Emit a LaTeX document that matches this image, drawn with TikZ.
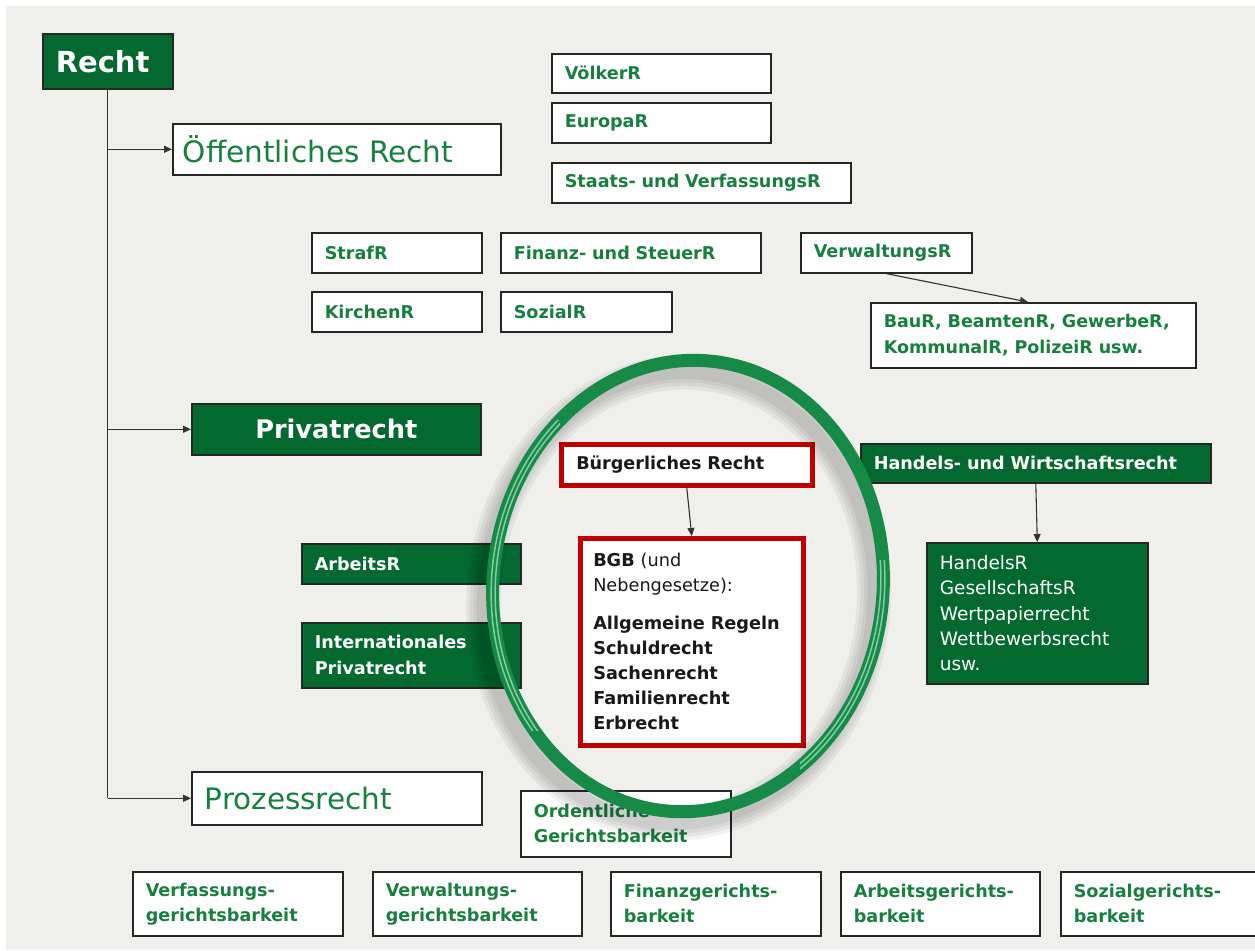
\documentclass[tikz,border=0pt]{standalone}
\usepackage{fontspec}
\setmainfont{DejaVu Sans}
\usetikzlibrary{arrows.meta}
\definecolor{bg}{HTML}{EFEFEC}
\definecolor{dgreen}{HTML}{03692F}
\definecolor{tgreen}{HTML}{17803F}
\definecolor{rred}{HTML}{C00000}
\definecolor{ringc}{HTML}{178A48}
\definecolor{ringlight}{HTML}{A8E6C0}
\begin{document}
\begin{tikzpicture}[x=1pt,y=-1pt,
  base/.style={anchor=north west, draw=black!85, line width=1.6pt, inner xsep=13pt, inner ysep=0pt, align=left},
  wbox/.style={base, fill=white, text=tgreen, font=\bfseries\fontsize{17.6}{25}\selectfont},
  gbox/.style={base, fill=dgreen, text=white, font=\bfseries\fontsize{17.6}{25}\selectfont},
  rbox/.style={base, draw=rred, line width=4.5pt, fill=white, text=black!90, font=\bfseries\fontsize{17.6}{25}\selectfont},
  bigfont/.style={font=\fontsize{29.5}{32}\selectfont},
  conn/.style={draw=black!80, line width=1.1pt},
  arr/.style={conn, -{Triangle[length=8pt,width=7pt]}},
  shadowring/.style={draw=black, line width=#1, opacity=0.05},
  stripe/.style={draw=ringlight, line width=1.5pt, opacity=0.75}
]
\useasboundingbox (0,0) rectangle (1255,950);
\fill[white] (0,0) rectangle (1255,950);
\fill[bg] (6,6) rectangle (1255,950);

% main boxes
\node[gbox, font=\bfseries\fontsize{29}{32}\selectfont, minimum width=130pt, minimum height=55pt, text width=104pt] (recht) at (42,33) {Recht};
\node[wbox, bigfont, inner xsep=10pt, minimum width=328pt, minimum height=51pt, text width=308pt] (oeff) at (172,123) {Öffentliches Recht};
\node[gbox, font=\bfseries\fontsize{25.6}{30}\selectfont, align=center, minimum width=289pt, minimum height=51pt, text width=263pt] (priv) at (191,403) {Privatrecht};
\node[wbox, bigfont, minimum width=290pt, minimum height=53pt, text width=264pt] (proz) at (191,771) {Prozessrecht};

% connectors from Recht
\draw[conn] (recht.south) -- (recht.south |- proz.west);
\draw[arr] (recht.south |- oeff.west) -- (oeff.west);
\draw[arr] (recht.south |- priv.west) -- (priv.west);
\draw[arr] (recht.south |- proz.west) -- (proz.west);

% public law
\node[wbox, minimum width=219pt, minimum height=39pt, text width=193pt] (voelker) at (551,53) {VölkerR};
\node[wbox, minimum width=219pt, minimum height=40pt, text width=193pt] (europa) at (551,102) {EuropaR};
\node[wbox, minimum width=299pt, minimum height=40pt, text width=273pt] (staats) at (551,162) {Staats- und VerfassungsR};
\node[wbox, minimum width=170pt, minimum height=40pt, text width=144pt] (straf) at (311,232) {StrafR};
\node[wbox, minimum width=260pt, minimum height=40pt, text width=234pt] (finanz) at (500,232) {Finanz- und SteuerR};
\node[wbox, minimum width=171pt, minimum height=40pt, text width=145pt] (verw) at (800,232) {VerwaltungsR};
\node[wbox, minimum width=170pt, minimum height=40pt, text width=144pt] (kirchen) at (311,291) {KirchenR};
\node[wbox, minimum width=171pt, minimum height=40pt, text width=145pt] (sozial) at (500,291) {SozialR};
\node[wbox, font=\bfseries\fontsize{17.5}{26}\selectfont, minimum width=325pt, minimum height=65pt, text width=299pt] (bau) at (870,302) {BauR, BeamtenR, GewerbeR,\\KommunalR, PolizeiR usw.};
\coordinate (bauin) at (1028,302);
\draw[arr] (verw.south) -- (bauin);

% private law
\node[rbox, inner xsep=15pt, minimum width=251pt, minimum height=41pt, text width=221pt] (buerg) at (559,442) {Bürgerliches Recht};
\node[gbox, minimum width=350pt, minimum height=39pt, text width=324pt] (handels) at (860,443) {Handels- und Wirtschaftsrecht};
\node[gbox, minimum width=219pt, minimum height=40pt, text width=193pt] (arbeits) at (301,543) {ArbeitsR};
\node[gbox, font=\bfseries\fontsize{17.6}{26}\selectfont, minimum width=219pt, minimum height=65pt, text width=193pt] (ipr) at (301,622) {Internationales\\Privatrecht};
\node[rbox, font=\bfseries\fontsize{17.7}{25}\selectfont, minimum width=223pt, minimum height=207pt, text width=197pt] (bgb) at (578,536) {BGB \mdseries(und\\Nebengesetze):\\[13pt]\bfseries Allgemeine Regeln\\Schuldrecht\\Sachenrecht\\Familienrecht\\Erbrecht};
\node[gbox, font=\fontsize{18.5}{25.3}\selectfont, minimum width=221pt, minimum height=141pt, text width=195pt] (handelsr) at (926,542) {HandelsR\\GesellschaftsR\\Wertpapierrecht\\Wettbewerbsrecht\\usw.};
\draw[arr] (buerg.south) -- (bgb.north);
\draw[arr] (handels.south) -- (handelsr.north);

% courts
\node[wbox, minimum width=210pt, minimum height=66pt, text width=184pt] (ord) at (520,790) {Ordentliche\\Gerichtsbarkeit};
\node[wbox, minimum width=210pt, minimum height=64pt, text width=184pt] (vfg) at (132,871) {Verfassungs-\\gerichtsbarkeit};
\node[wbox, minimum width=209pt, minimum height=64pt, text width=183pt] (vwg) at (372,871) {Verwaltungs-\\gerichtsbarkeit};
\node[wbox, minimum width=210pt, minimum height=64pt, text width=184pt] (fg) at (610,871) {Finanzgerichts-\\barkeit};
\node[wbox, minimum width=199pt, minimum height=64pt, text width=173pt] (ag) at (840,871) {Arbeitsgerichts-\\barkeit};
\node[wbox, minimum width=210pt, minimum height=64pt, text width=184pt] (sg) at (1060,871) {Sozialgerichts-\\barkeit};

% ring with shadow
\begin{scope}[rotate around={-6:(688,586)}]
  \foreach \w in {34,27,20,13} {
    \draw[shadowring=\w pt] (680,599) ellipse [x radius=195, y radius=226];
  }
  \draw[ringc, line width=13pt] (688,586) ellipse [x radius=195, y radius=226];
\end{scope}
% highlight stripes on the left and lower right of the ring
\begin{scope}
  \clip (440,420) rectangle (560,730);
  \begin{scope}[rotate around={-6:(688,586)}]
    \draw[stripe] (688,586) ellipse [x radius=192.5, y radius=223.5];
    \draw[stripe] (688,586) ellipse [x radius=196.5, y radius=227.5];
  \end{scope}
\end{scope}
\begin{scope}
  \clip (800,560) rectangle (920,800);
  \begin{scope}[rotate around={-6:(688,586)}]
    \draw[stripe] (688,586) ellipse [x radius=192.5, y radius=223.5];
    \draw[stripe] (688,586) ellipse [x radius=196.5, y radius=227.5];
  \end{scope}
\end{scope}
\end{tikzpicture}
\end{document}
